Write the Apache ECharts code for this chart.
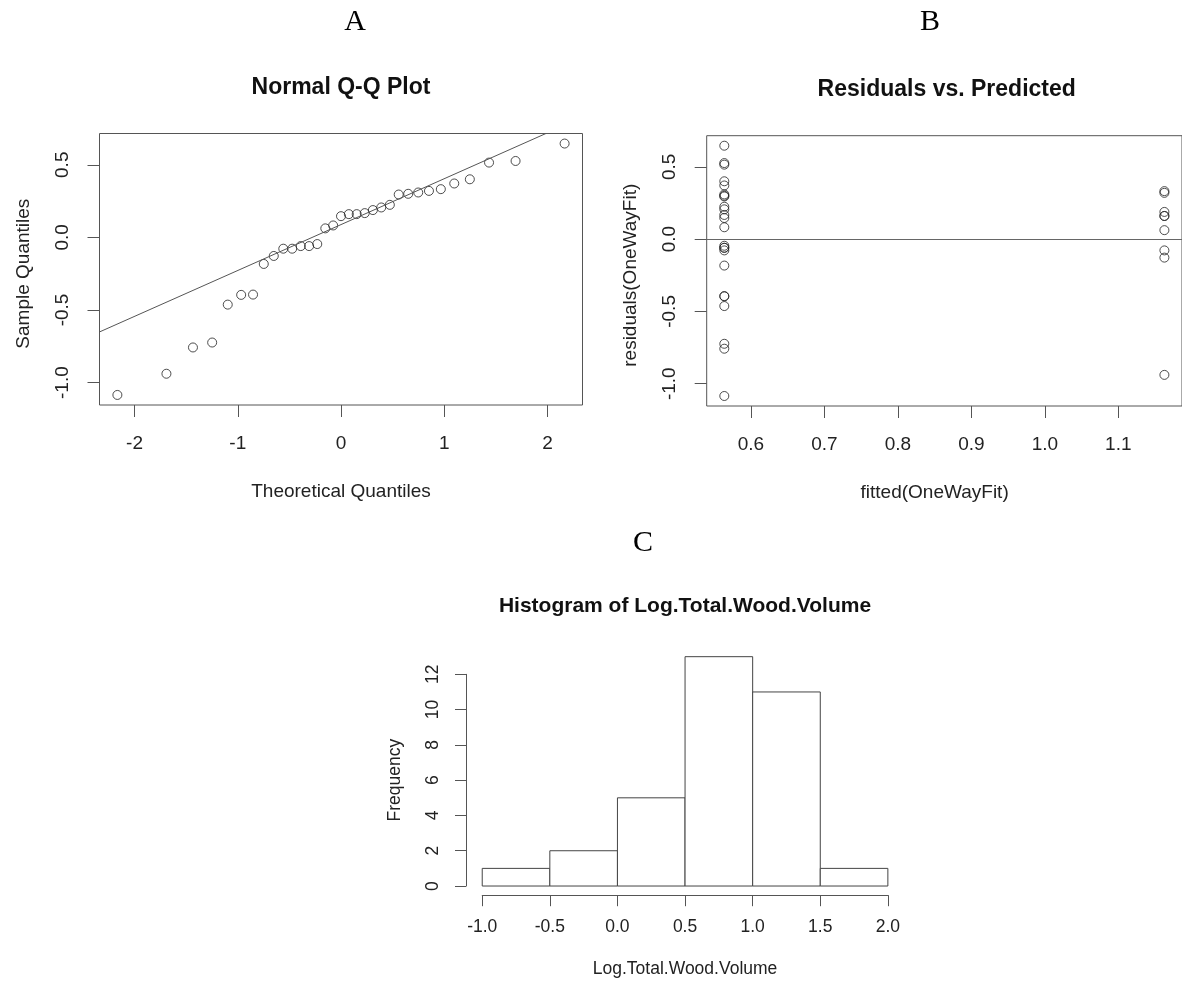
<!DOCTYPE html>
<html>
<head>
<meta charset="utf-8">
<script src="https://cdn.jsdelivr.net/npm/echarts@6/dist/echarts.min.js"></script>
<style>
html,body{margin:0;padding:0;background:#fff;}
#chart{width:1182px;height:983px;}
</style>
</head>
<body>
<div id="chart"></div>
<script>
// ---------- DATA ----------
// Panel A: Normal Q-Q plot of residuals
const theoreticalQuantiles = [-2.166,-1.691,-1.434,-1.248,-1.097,-0.967,-0.852,-0.748,-0.651,-0.559,-0.473,-0.390,-0.309,-0.230,-0.152,-0.076,0.000,0.076,0.152,0.230,0.309,0.390,0.473,0.559,0.651,0.748,0.852,0.967,1.097,1.248,1.434,1.691,2.166];
const sampleQuantiles = [-1.085,-0.939,-0.758,-0.724,-0.463,-0.396,-0.394,-0.183,-0.128,-0.078,-0.078,-0.060,-0.060,-0.046,0.062,0.082,0.146,0.160,0.160,0.167,0.188,0.206,0.224,0.295,0.300,0.309,0.320,0.332,0.371,0.400,0.515,0.526,0.646];
const qqLineIntercept = 0.088;
const qqLineSlope = 0.316;
const qqXTicks = [-2,-1,0,1,2];
const qqYTicks = [-1.0,-0.5,0.0,0.5];

// Panel B: residuals vs fitted
const fittedLevels = [0.564, 1.169];
const residualsLow = [0.646,0.526,0.515,0.400,0.371,0.309,0.300,0.295,0.224,0.206,0.167,0.146,0.082,-0.046,-0.060,-0.060,-0.078,-0.183,-0.394,-0.396,-0.463,-0.724,-0.758,-1.085];
const residualsHigh = [0.332,0.320,0.188,0.160,0.160,0.062,-0.078,-0.128,-0.939];
const rvpXTicks = [0.6,0.7,0.8,0.9,1.0,1.1];
const rvpYTicks = [-1.0,-0.5,0.0,0.5];

// Panel C: histogram
const binEdges = [-1.0,-0.5,0.0,0.5,1.0,1.5,2.0];
const binCounts = [1,2,5,13,11,1];
const histXTicks = [-1.0,-0.5,0.0,0.5,1.0,1.5,2.0];
const histYTicks = [0,2,4,6,8,10,12];

// ---------- LAYOUT ----------
const FONT = '"Liberation Sans", Arial, Helvetica, sans-serif';
const SERIF = '"Liberation Serif", "Times New Roman", serif';
const INK = '#222';
const BOX = '#555';
const FS = 19;       // base font (A, B)
const FSC = 17.5;    // base font (C)

function rRange(vals){ // R style 4% extension
  const mn = Math.min(...vals), mx = Math.max(...vals), d = (mx-mn)*0.04;
  return [mn-d, mx+d];
}

const panels = {
  A:{left:99.5, top:133.5, right:582.5, bottom:405,
     xr:rRange(theoreticalQuantiles), yr:rRange(sampleQuantiles),
     xt:qqXTicks, yt:qqYTicks},
  B:{left:706.7, top:135.7, right:1186.8, bottom:406,
     xr:rRange(fittedLevels), yr:rRange(residualsLow.concat(residualsHigh)),
     xt:rvpXTicks, yt:rvpYTicks},
  C:{left:466, top:647.5, right:904.1, bottom:895.2,
     xr:rRange(binEdges), yr:rRange([0].concat(binCounts)),
     xt:histXTicks, yt:histYTicks}
};
function px(p,v){return p.left + (v-p.xr[0])/(p.xr[1]-p.xr[0])*(p.right-p.left);}
function py(p,v){return p.bottom - (v-p.yr[0])/(p.yr[1]-p.yr[0])*(p.bottom-p.top);}

const grids=[], xAxes=[], yAxes=[], series=[];
function addPanel(key, opt){
  const p = panels[key];
  const gi = grids.length;
  // data grid (plot region)
  grids.push({left:p.left, top:p.top, width:p.right-p.left, height:p.bottom-p.top,
              show:opt.box, borderColor:BOX, borderWidth:opt.box?1:0, containLabel:false});
  xAxes.push({type:'value', gridIndex:gi, min:p.xr[0], max:p.xr[1], show:false});
  yAxes.push({type:'value', gridIndex:gi, min:p.yr[0], max:p.yr[1], show:false});
  // axis grid spanning tick range
  const xa = px(p,p.xt[0]), xb = px(p,p.xt[p.xt.length-1]);
  const ya = py(p,p.yt[p.yt.length-1]), yb = py(p,p.yt[0]);
  grids.push({left:xa, top:ya, width:xb-xa, height:yb-ya, show:false});
  const fs = opt.fs;
  const mk = () => ({
    axisLine:{show:!opt.box, onZero:false, lineStyle:{color:BOX,width:1}},
    axisTick:{show:true, inside:false, length:opt.tick, lineStyle:{color:BOX,width:1}},
    splitLine:{show:false},
    nameTextStyle:{fontFamily:FONT,fontSize:fs,color:INK},
  });
  xAxes.push(Object.assign({type:'value', gridIndex:gi+1, position:'bottom',
     min:p.xt[0], max:p.xt[p.xt.length-1], interval:p.xt[1]-p.xt[0],
     offset:p.bottom-yb,
     name:opt.xname, nameLocation:'middle', nameGap:opt.xnameGap,
     axisLabel:{fontFamily:FONT,fontSize:fs,color:INK,margin:opt.xlabM,
       formatter:v=>opt.xfmt(v), showMinLabel:true, showMaxLabel:true}}, mk()));
  yAxes.push(Object.assign({type:'value', gridIndex:gi+1, position:'left',
     min:p.yt[0], max:p.yt[p.yt.length-1], interval:p.yt[1]-p.yt[0],
     offset:xa-p.left,
     name:opt.yname, nameLocation:'middle', nameGap:opt.ynameGap,
     axisLabel:{fontFamily:FONT,fontSize:fs,color:INK,margin:opt.ylabM,rotate:90,
       formatter:v=>opt.yfmt(v), showMinLabel:true, showMaxLabel:true}}, mk()));
  return gi;
}

const f1 = v=>v.toFixed(1);
const f0 = v=>String(Math.round(v));

addPanel('A',{box:true, fs:FS, tick:12, xname:'Theoretical Quantiles', yname:'Sample Quantiles',
   xnameGap:77, ynameGap:66, xlabM:29, ylabM:27, xfmt:f0, yfmt:f1});
addPanel('B',{box:true, fs:FS, tick:12, xname:'fitted(OneWayFit)', yname:'residuals(OneWayFit)',
   xnameGap:77, ynameGap:66, xlabM:29, ylabM:27, xfmt:f1, yfmt:f1});
addPanel('C',{box:false, fs:FSC, tick:11, xname:'Log.Total.Wood.Volume', yname:'Frequency',
   xnameGap:65, ynameGap:62, xlabM:23, ylabM:24, xfmt:f1, yfmt:f0});

const circle = {symbol:'circle', symbolSize:9,
  itemStyle:{color:'rgba(0,0,0,0)', borderColor:INK, borderWidth:1}};

// Panel A points and Q-Q line
series.push(Object.assign({type:'scatter', xAxisIndex:0, yAxisIndex:0, silent:true,
  data:theoreticalQuantiles.map((t,i)=>[t,sampleQuantiles[i]]), z:3}, circle));
const pa = panels.A;
series.push({type:'line', xAxisIndex:0, yAxisIndex:0, silent:true, showSymbol:false, clip:true,
  data:[[pa.xr[0], qqLineIntercept+qqLineSlope*pa.xr[0]],[pa.xr[1], qqLineIntercept+qqLineSlope*pa.xr[1]]],
  lineStyle:{color:'#555', width:1}, z:4});

// Panel B points and zero line
series.push(Object.assign({type:'scatter', xAxisIndex:2, yAxisIndex:2, silent:true,
  data:residualsLow.map(r=>[fittedLevels[0],r]).concat(residualsHigh.map(r=>[fittedLevels[1],r])), z:3,
  markLine:{silent:true, symbol:['none','none'], label:{show:false},
    lineStyle:{color:'#666', width:1, type:'solid'}, data:[{yAxis:0}]}}, circle));

// Panel C histogram bars
series.push({type:'custom', xAxisIndex:4, yAxisIndex:4, silent:true,
  data:binCounts.map((c,i)=>[binEdges[i], binEdges[i+1], c]),
  renderItem:function(params, api){
    const p0 = api.coord([api.value(0), 0]);
    const p1 = api.coord([api.value(1), api.value(2)]);
    return {type:'rect', shape:{x:p0[0], y:p1[1], width:p1[0]-p0[0], height:p0[1]-p1[1]},
      style:{fill:'#fff', stroke:'#444', lineWidth:1}};
  }});

const titles = [
  {text:'A', left:355, top:22, fs:30, serif:true},
  {text:'B', left:930, top:22, fs:30, serif:true},
  {text:'C', left:643, top:543, fs:30, serif:true},
  {text:'Normal Q-Q Plot', left:341, top:88, fs:23, bold:true},
  {text:'Residuals vs. Predicted', left:946.7, top:90, fs:23, bold:true},
  {text:'Histogram of Log.Total.Wood.Volume', left:685, top:606, fs:21, bold:true}
];

const option = {
  animation:false,
  backgroundColor:'#fff',
  grid:grids, xAxis:xAxes, yAxis:yAxes, series:series,
  graphic:titles.map(t=>({type:'text', x:t.left, y:t.top, silent:true,
    style:{text:t.text, fontFamily:t.serif?SERIF:FONT, fontSize:t.fs, fontWeight:t.bold?'bold':'normal',
      fill:t.serif?'#000':'#111', align:'center', verticalAlign:'middle'}}))
};
const chart = echarts.init(document.getElementById('chart'), null, {renderer:'canvas'});
chart.setOption(option);
</script>
</body>
</html>
